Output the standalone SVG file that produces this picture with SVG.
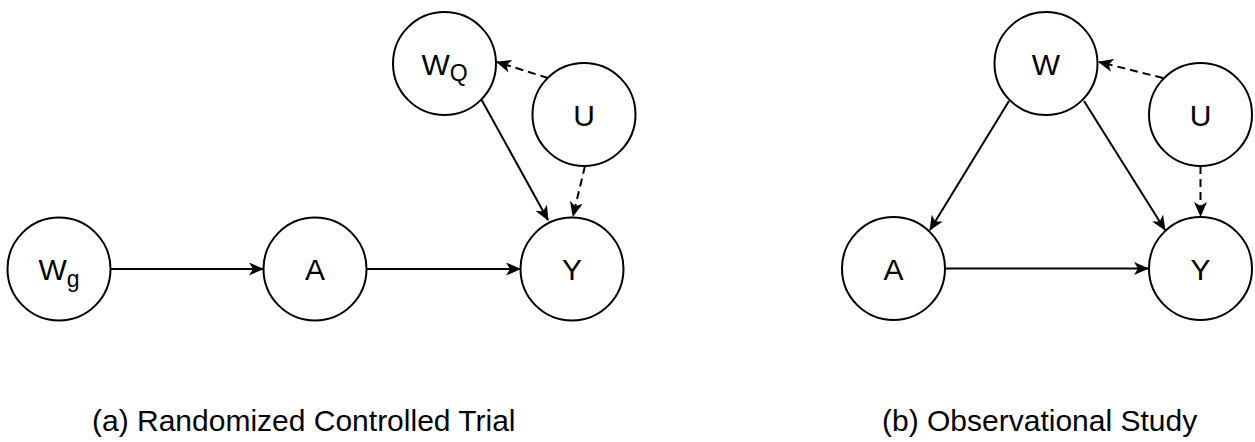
<svg xmlns="http://www.w3.org/2000/svg" width="1255" height="442" viewBox="0 0 1255 442">
  <style>
    .node circle { fill: #ffffff; stroke: #000000; stroke-width: 2; }
    .node text, .caption { font-family: "Liberation Sans", Arial, sans-serif; font-size: 30px; fill: #000000; }
    .node text { text-anchor: middle; }
    .sub { font-size: 23px; }
    .edge { fill: none; stroke: #000000; stroke-width: 2; marker-end: url(#arrow); }
    .dashed { stroke-dasharray: 8 5; }
  </style>
  <defs>
    <marker id="arrow" markerUnits="userSpaceOnUse" viewBox="0 0 15 13" markerWidth="15" markerHeight="13" refX="14" refY="6.5" orient="auto">
      <path d="M0,0 L15,6.5 L0,13 L4,6.5 Z" fill="#000000"/>
    </marker>
  </defs>

  <!-- edges -->
  <g id="connectors">
    <!-- (a) randomized trial -->
    <line class="edge" x1="110.5" y1="269" x2="263" y2="269"/>
    <line class="edge" x1="366.5" y1="269" x2="520" y2="269"/>
    <line class="edge" x1="481.7" y1="100" x2="548" y2="220"/>
    <line class="edge dashed" x1="548" y1="78" x2="497" y2="62"/>
    <line class="edge dashed" x1="585" y1="166" x2="573" y2="216"/>
    <!-- (b) observational study -->
    <line class="edge" x1="1009" y1="101" x2="930" y2="230"/>
    <line class="edge" x1="1084" y1="101" x2="1165" y2="230"/>
    <line class="edge dashed" x1="1163" y1="78" x2="1099" y2="62"/>
    <line class="edge dashed" x1="1200.5" y1="166" x2="1200.5" y2="216"/>
    <line class="edge" x1="945" y1="268.5" x2="1148" y2="268.5"/>
  </g>

  <!-- (a) nodes -->
  <g id="a-Wg" class="node">
    <circle cx="59" cy="269" r="51.5"/>
    <text x="59" y="280">W<tspan class="sub" dy="7">g</tspan></text>
  </g>
  <g id="a-A" class="node">
    <circle cx="315" cy="269" r="51.5"/>
    <text x="315" y="280">A</text>
  </g>
  <g id="a-Y" class="node">
    <circle cx="572" cy="269" r="51.5"/>
    <text x="572" y="280">Y</text>
  </g>
  <g id="a-WQ" class="node">
    <circle cx="444.5" cy="63.5" r="51.5"/>
    <text x="444.5" y="74.5">W<tspan class="sub" dy="6">Q</tspan></text>
  </g>
  <g id="a-U" class="node">
    <circle cx="584" cy="114.5" r="51.5"/>
    <text x="584" y="125.5">U</text>
  </g>

  <!-- (b) nodes -->
  <g id="b-W" class="node">
    <circle cx="1046" cy="63.5" r="51.5"/>
    <text x="1046" y="74.5">W</text>
  </g>
  <g id="b-U" class="node">
    <circle cx="1200.5" cy="114.5" r="51.5"/>
    <text x="1200.5" y="125.5">U</text>
  </g>
  <g id="b-A" class="node">
    <circle cx="893.5" cy="268.5" r="51.5"/>
    <text x="893.5" y="279.5">A</text>
  </g>
  <g id="b-Y" class="node">
    <circle cx="1200.5" cy="268.5" r="51.5"/>
    <text x="1200.5" y="279.5">Y</text>
  </g>

  <!-- captions -->
  <text class="caption" x="92" y="431">(a) Randomized Controlled Trial</text>
  <text class="caption" x="882" y="431">(b) Observational Study</text>
</svg>
